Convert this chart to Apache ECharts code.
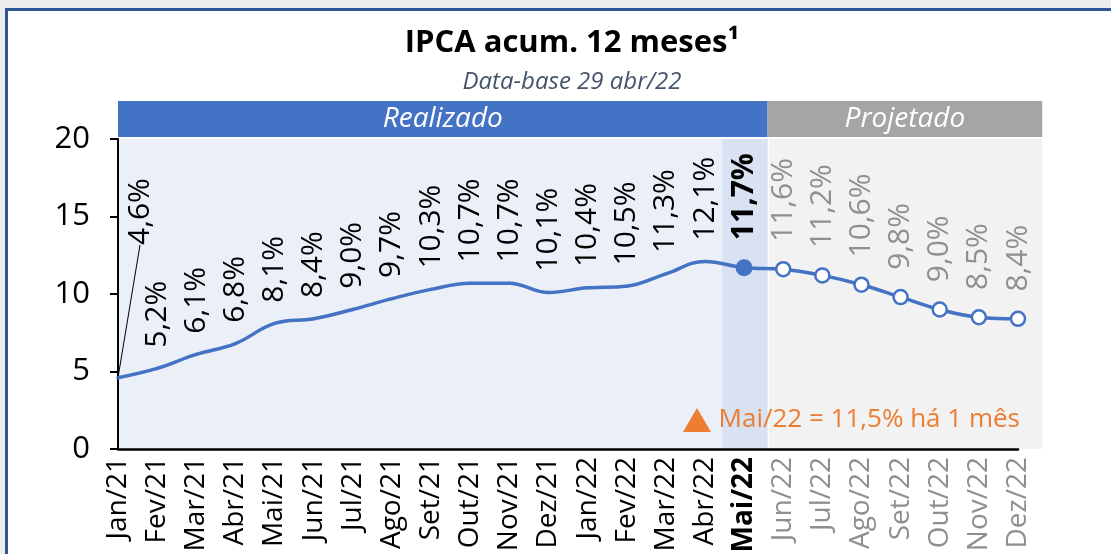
<!DOCTYPE html>
<html>
<head>
<meta charset="utf-8">
<script src="https://cdn.jsdelivr.net/npm/echarts@6/dist/echarts.min.js"></script>
<style>
html, body { margin: 0; padding: 0; background: #ececec; }
#grafico { width: 1111px; height: 554px; }
</style>
</head>
<body>
<div id="grafico"></div>
<script>
var meses = ['Jan/21', 'Fev/21', 'Mar/21', 'Abr/21', 'Mai/21', 'Jun/21', 'Jul/21', 'Ago/21',
    'Set/21', 'Out/21', 'Nov/21', 'Dez/21', 'Jan/22', 'Fev/22', 'Mar/22', 'Abr/22',
    'Mai/22', 'Jun/22', 'Jul/22', 'Ago/22', 'Set/22', 'Out/22', 'Nov/22', 'Dez/22'];
var ipca = [4.6, 5.2, 6.1, 6.8, 8.1, 8.4, 9.0, 9.7, 10.3, 10.7, 10.7, 10.1,
    10.4, 10.5, 11.3, 12.1, 11.7, 11.6, 11.2, 10.6, 9.8, 9.0, 8.5, 8.4];
var yTicks = [0, 5, 10, 15, 20];
var idxAtual = 16; // Mai/22, ultimo realizado

var azul = '#4472C4';
var cinza = '#8f8f8f';
var fonte = '"Open Sans", "Noto Sans", sans-serif';

var fmt = function(v){
    return v.toFixed(1).replace('.', ',') + '%';
};

// pontos da serie: realizado sem marcador, atual cheio, projetado vazado
var pontos = ipca.map(function(v, i){
    var item = {value: v};
    if (i < idxAtual) {
        item.symbolSize = 1;
        item.itemStyle = {color: azul};
        item.label = {color: '#000'};
    } else if (i === idxAtual) {
        item.symbolSize = 17;
        item.itemStyle = {color: azul, borderWidth: 0};
        item.label = {color: '#000', fontWeight: 'bold'};
    } else {
        item.symbolSize = 14;
        item.label = {color: cinza};
    }
    if (i === 0) {
        item.labelLine = {show: true, lineStyle: {color: '#000', width: 1}};
    }
    return item;
});

var chart = echarts.init(document.getElementById('grafico'));

var option = {
    backgroundColor: 'transparent',
    animation: false,
    title: {
        text: 'IPCA acum. 12 meses¹',
        subtext: 'Data-base 29 abr/22',
        left: 567,
        top: 23,
        textAlign: 'center',
        itemGap: 11,
        textStyle: {fontFamily: fonte, fontSize: 31, fontWeight: 'bold', color: '#000'},
        subtextStyle: {fontFamily: fonte, fontSize: 24, fontStyle: 'italic', color: '#44546A'}
    },
    grid: {left: 118, right: 93, top: 139, bottom: 105, outerBoundsMode: 'none', containLabel: false},
    xAxis: {
        type: 'category',
        data: meses,
        boundaryGap: false,
        axisLine: {lineStyle: {color: '#000', width: 2.5}},
        axisTick: {show: false},
        axisLabel: {
            interval: 0,
            rotate: 90,
            margin: 8,
            fontFamily: fonte,
            fontSize: 28,
            formatter: function(v, i){
                if (i === idxAtual) return '{b|' + v + '}';
                if (i > idxAtual) return '{p|' + v + '}';
                return '{r|' + v + '}';
            },
            rich: {
                r: {color: '#000', fontFamily: fonte, fontSize: 28},
                b: {color: '#000', fontFamily: fonte, fontSize: 28, fontWeight: 'bold'},
                p: {color: cinza, fontFamily: fonte, fontSize: 28}
            }
        }
    },
    yAxis: {
        type: 'value',
        min: yTicks[0],
        max: yTicks[yTicks.length - 1],
        interval: yTicks[1] - yTicks[0],
        axisLine: {show: true, lineStyle: {color: '#000', width: 2}},
        axisTick: {show: true, length: 8, lineStyle: {color: '#000', width: 2}},
        splitLine: {show: false},
        axisLabel: {color: '#000', fontFamily: fonte, fontSize: 31, margin: 28}
    },
    series: [{
        type: 'line',
        data: pontos,
        smooth: 0.4,
        symbol: 'circle',
        showAllSymbol: true,
        z: 5,
        lineStyle: {color: azul, width: 3.5},
        itemStyle: {color: '#fff', borderColor: azul, borderWidth: 2.5},
        label: {
            show: true,
            position: 'top',
            distance: 19,
            rotate: 90,
            align: 'left',
            verticalAlign: 'middle',
            fontFamily: fonte,
            fontSize: 30,
            formatter: function(p){ return fmt(p.value); }
        },
        // o rotulo do primeiro ponto fica afastado, com linha guia
        labelLayout: function(p){
            if (p.dataIndex === 0) return {dx: 112, dy: 22};
        }
    }]
};
chart.setOption(option);

// faixas de fundo e cabecalhos a partir das posicoes do eixo
var px = function(i, v){ return chart.convertToPixel({gridIndex: 0}, [i, v]); };
var x0 = px(0, 0)[0];
var passo = px(1, 0)[0] - x0;
var xAtual = px(idxAtual, 0)[0];
var xFim = px(meses.length - 1, 0)[0];
var topo = px(0, yTicks[yTicks.length - 1])[1];
var base = px(0, yTicks[0])[1];
var fronteira = xAtual + 0.6 * passo;
var direita = xFim + 0.62 * passo;

chart.setOption({
    graphic: [
        {type: 'rect', z: -30, silent: true,
            shape: {x: 6.5, y: 9.5, width: 1200, height: 700},
            style: {fill: '#fff', stroke: '#2F5597', lineWidth: 3}},
        {type: 'rect', z: -20, silent: true,
            shape: {x: x0, y: topo, width: fronteira - x0, height: base - topo},
            style: {fill: '#EBEFF8'}},
        {type: 'rect', z: -19, silent: true,
            shape: {x: xAtual - 0.56 * passo, y: topo, width: fronteira - xAtual + 0.56 * passo, height: base - topo},
            style: {fill: '#D9E2F3'}},
        {type: 'rect', z: -20, silent: true,
            shape: {x: fronteira + 1.5, y: topo, width: direita - fronteira - 1.5, height: base - topo},
            style: {fill: '#F2F2F2'}},
        {type: 'rect', z: -20, silent: true,
            shape: {x: x0, y: topo - 38, width: fronteira - x0, height: 36},
            style: {fill: azul}},
        {type: 'rect', z: -20, silent: true,
            shape: {x: fronteira, y: topo - 38, width: direita - fronteira, height: 36},
            style: {fill: '#A5A5A5'}},
        {type: 'text', z: 10, silent: true,
            style: {text: 'Realizado', x: (x0 + fronteira) / 2, y: topo - 20, align: 'center', verticalAlign: 'middle',
                fill: '#fff', fontFamily: fonte, fontSize: 28, fontStyle: 'italic'}},
        {type: 'text', z: 10, silent: true,
            style: {text: 'Projetado', x: (fronteira + direita) / 2, y: topo - 20, align: 'center', verticalAlign: 'middle',
                fill: '#fff', fontFamily: fonte, fontSize: 28, fontStyle: 'italic'}},
        // nota da projecao anterior
        {type: 'polygon', z: 10, silent: true,
            shape: {points: [[683, 432], [697, 408], [711, 432]]},
            style: {fill: '#ED7D31'}},
        {type: 'text', z: 10, silent: true,
            style: {text: 'Mai/22 = 11,5% há 1 mês', x: 1020, y: 420, align: 'right', verticalAlign: 'middle',
                fill: '#ED7D31', fontFamily: fonte, fontSize: 26}}
    ]
});
</script>
</body>
</html>
